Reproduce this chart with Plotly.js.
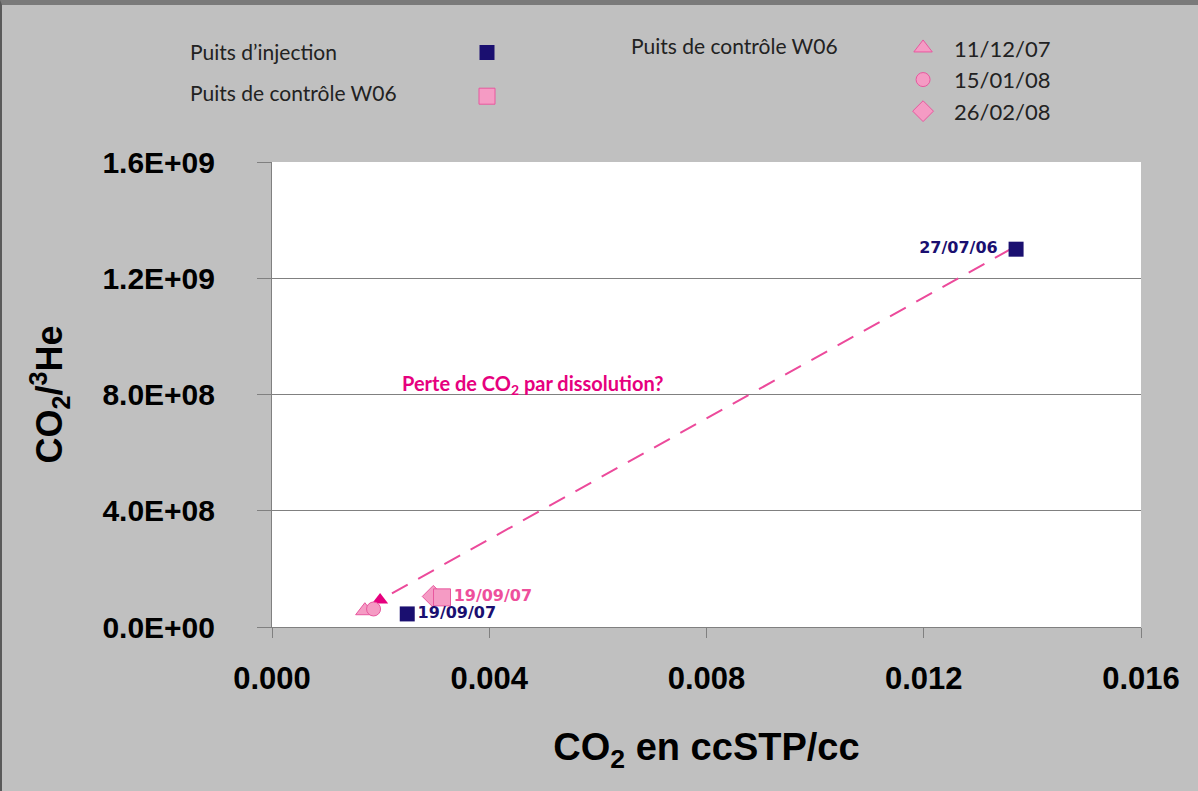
<!DOCTYPE html>
<html><head><meta charset="utf-8">
<script src="https://cdn.plot.ly/plotly-3.0.1.min.js"></script>
<style>
html,body{margin:0;padding:0;background:#c0c0c0;}
#wrap{position:relative;width:1198px;height:791px;}
#chart{width:1198px;height:791px;}
#frame{position:absolute;left:0;top:0;width:1196px;height:786px;border-top:5px solid #7a7a7a;border-left:2px solid #5a5a5a;pointer-events:none;}
</style></head>
<body><div id="wrap"><div id="chart"></div><div id="frame"></div></div>
<script>
// Data
const injX = [0.0137, 0.00249];
const injY = [1.30e9, 4.5e7];
const injLabels = ["27/07/06", "19/09/07"];

const w06X = [0.00313];
const w06Y = [1.02e8];
const w06Labels = ["19/09/07"];

const triX = [0.00171];
const triY = [5.6e7];
const cirX = [0.00187];
const cirY = [6.2e7];
const diaX = [0.00297];
const diaY = [1.05e8];

const trendX = [0.0136, 0.00199];
const trendY = [1.30e9, 9.3e7];

const names = ["Puits d\u2019injection", "Puits de contr\u00f4le W06", "11/12/07", "15/01/08", "26/02/08"];

const yTickVals = [0, 4e8, 8e8, 1.2e9, 1.6e9];
const yTickText = ["0.0E+00", "4.0E+08", "8.0E+08", "1.2E+09", "1.6E+09"];
const xTickVals = [0, 0.004, 0.008, 0.012, 0.016];
const xTickText = ["0.000", "0.004", "0.008", "0.012", "0.016"];

const NAVY = "#1a0f70";
const PINKF = "#f59bc4";
const PINKL = "#e8589f";
const MAG = "#e6007e";
const LEGFONT = "Lato";

const traces = [
  {x: trendX, y: trendY, type: "scatter", mode: "lines", showlegend: false, hoverinfo: "skip",
   line: {color: "#ec4a9b", width: 2, dash: "18px,12px"}},
  {x: [trendX[1]], y: [trendY[1]], type: "scatter", mode: "markers", showlegend: false, hoverinfo: "skip",
   marker: {symbol: "triangle-up", size: 14, color: MAG}},
  {x: triX, y: triY, type: "scatter", mode: "markers", name: "\u2002" + names[2], legend: "legend2",
   marker: {symbol: "triangle-up", size: 16, color: PINKF, line: {color: PINKL, width: 1}}},
  {x: cirX, y: cirY, type: "scatter", mode: "markers", name: "\u2002" + names[3], legend: "legend2",
   marker: {symbol: "circle", size: 14, color: PINKF, line: {color: PINKL, width: 1}}},
  {x: diaX, y: diaY, type: "scatter", mode: "markers", name: "\u2002" + names[4], legend: "legend2",
   marker: {symbol: "diamond", size: 17, color: PINKF, line: {color: PINKL, width: 1}}},
  {x: w06X, y: w06Y, type: "scatter", mode: "markers+text", name: " ", legend: "legend", legendgroup: "b", legendrank: 2,
   text: w06Labels, textposition: "middle right",
   textfont: {family: "DejaVu Sans", size: 16, color: "#ee4f9c", weight: "bold"},
   hovertext: names[1], hoverinfo: "x+y+text",
   marker: {symbol: "square", size: 17, color: PINKF, line: {color: PINKL, width: 1}}},
  {x: injX, y: injY, type: "scatter", mode: "markers+text", name: "  ", legend: "legend", legendgroup: "a", legendrank: 1,
   text: injLabels, textposition: ["middle left", "middle right"],
   texttemplate: ["%{text}\u2002", "%{text}"],
   textfont: {family: "DejaVu Sans", size: 16, color: NAVY, weight: "bold"},
   hovertext: names[0], hoverinfo: "x+y+text",
   marker: {symbol: "square", size: 15, color: NAVY}}
];

const ann = (text, x, y) => ({text, x, y, xref: "paper", yref: "paper",
  xanchor: "left", yanchor: "middle", showarrow: false,
  font: {family: LEGFONT, size: 21, color: "#222"}});

const layout = {
  width: 1198, height: 791,
  paper_bgcolor: "#c0c0c0", plot_bgcolor: "#ffffff",
  margin: {l: 272, r: 57, t: 162, b: 164, pad: 0},
  font: {family: "Liberation Sans", color: "#000"},
  xaxis: {
    range: [0, 0.016], tickvals: xTickVals, ticktext: xTickText,
    showgrid: false, zeroline: false, showline: true, linecolor: "#808080", linewidth: 1,
    ticks: "outside", ticklen: 10, tickcolor: "#808080",
    tickfont: {family: "Liberation Sans", size: 31, weight: "bold", color: "#000"},
    ticklabelstandoff: 14,
    title: {text: "CO<sub>2</sub> en ccSTP/cc", font: {family: "Liberation Sans", size: 38, weight: "bold", color: "#000"}, standoff: 38}
  },
  yaxis: {
    range: [0, 1.6e9], tickvals: yTickVals, ticktext: yTickText,
    showgrid: true, gridcolor: "#808080", gridwidth: 1, zeroline: false,
    showline: true, linecolor: "#808080", linewidth: 1,
    ticks: "outside", ticklen: 14, tickcolor: "#808080",
    tickfont: {family: "Liberation Sans", size: 30, weight: "bold", color: "#000"},
    ticklabelstandoff: 36,
    title: {text: "CO<sub>2</sub>/<sup>3</sup>He", font: {family: "Liberation Sans", size: 36, weight: "bold", color: "#000"}, standoff: 28}
  },
  legend: {x: 0.2244, y: 1.28, xanchor: "left", yanchor: "top", bgcolor: "rgba(0,0,0,0)",
    font: {family: LEGFONT, size: 22, color: "#222"}, tracegroupgap: 12,
    traceorder: "grouped", itemclick: false},
  legend2: {x: 0.7262, y: 1.29, xanchor: "left", yanchor: "top", bgcolor: "rgba(0,0,0,0)",
    font: {family: LEGFONT, size: 22, color: "#222"}, itemclick: false},
  annotations: [
    ann(names[0], -0.0967, 1.2366),
    ann(names[1], -0.0967, 1.1484),
    ann(names[1], 0.4108, 1.2516),
    {text: "Perte de CO<sub>2</sub> par dissolution?", x: 0.00479, y: 8.33e8, xref: "x", yref: "y",
     showarrow: false, xanchor: "center", yanchor: "middle",
     font: {family: LEGFONT, size: 20, weight: "bold", color: MAG}}
  ]
};

Plotly.newPlot("chart", traces, layout, {displayModeBar: false, staticPlot: true});
</script></body></html>
